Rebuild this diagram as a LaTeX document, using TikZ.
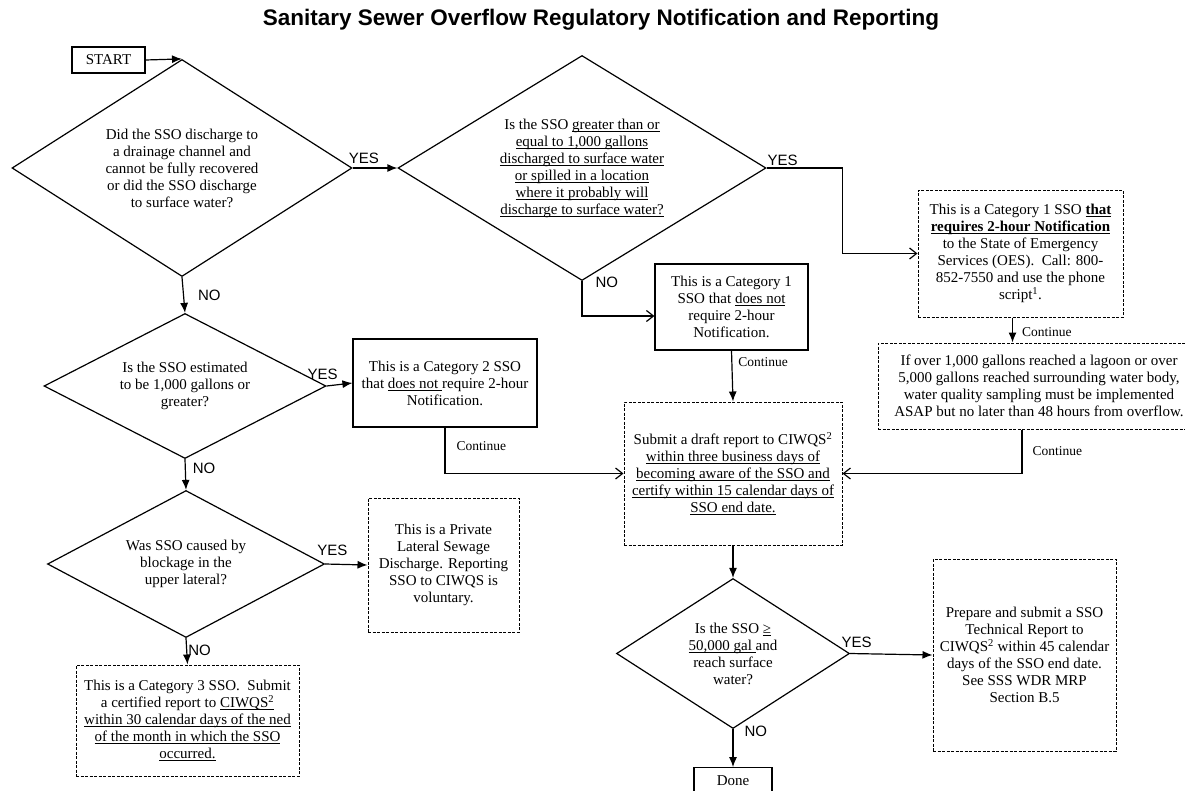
\documentclass[tikz,border=0pt]{standalone}
\usepackage{fontspec}
\setmainfont{Liberation Serif}
\newfontfamily\labelfont{Liberation Sans}
\usepackage{tikz}
\usetikzlibrary{shapes,arrows.meta}
\usetikzlibrary{positioning}
\newsavebox{\undlbox}
\newcommand{\undl}[1]{\sbox{\undlbox}{#1}\rlap{\rule[-2.4pt]{\wd\undlbox}{0.8pt}}\usebox{\undlbox}}
\tikzstyle{arrow} = [line width=1.2pt,-{Latex[length=10pt,width=8pt]}]
\tikzstyle{openarrow} = [line width=1.2pt,-{Straight Barb[length=7pt,width=11pt]}]
\tikzstyle{question} = [
    diamond, draw=black, line width=1.2pt, inner sep=0pt, align=center,
    font=\fontsize{15}{17}\selectfont]
\tikzstyle{process} = [
    rectangle, draw=black, line width=1.2pt, inner sep=2pt, align=center,
    font=\fontsize{15}{17}\selectfont]
\tikzstyle{dprocess} = [process, line width=1pt, dash pattern=on 3pt off 1.5pt]
\tikzstyle{answer} = [font=\labelfont\fontsize{15}{17}\selectfont, inner sep=1pt]
\tikzstyle{note} = [font=\fontsize{13.5}{16}\selectfont, inner sep=1pt]

\begin{document}
\begin{tikzpicture}[x=1pt, y=-1pt]
\useasboundingbox (0,0) rectangle (1185,790);

\node (title) at (601,20) {\labelfont\bfseries\fontsize{22.5}{26}\selectfont
    Sanitary Sewer Overflow Regulatory Notification and Reporting};

\node (start) [process, minimum width=73pt, minimum height=26pt] at (108.5,60) {START};

\node (q1) [question, shape aspect=1.56, minimum width=340pt, minimum height=217pt] at (182,168) {
    Did the SSO discharge to \\
    a drainage channel and \\
    cannot be fully recovered \\
    or did the SSO discharge \\
    to surface water?
};

\node (q2) [question, shape aspect=1.64, minimum width=368pt, minimum height=225pt] at (582,168) {
    Is the SSO \undl{greater than or} \\
    \undl{equal to 1,000 gallons} \\
    \undl{discharged to surface water} \\
    \undl{or spilled in a location} \\
    \undl{where it probably will} \\
    \undl{discharge to surface water?}
};

\node (cat1two) [dprocess, minimum width=205pt, minimum height=127pt] at (1020.5,253.5) {
    This is a Category 1 SSO \textbf{\undl{that}} \\
    \textbf{\undl{requires 2-hour Notification}} \\
    to the State of Emergency \\
    Services (OES).\ \ Call: 800- \\
    852-7550 and use the phone \\
    script\textsuperscript{1}.
};

\node (sample) [dprocess, minimum width=322pt, minimum height=86pt] at (1039,386) {
    If over 1,000 gallons reached a lagoon or over \\
    5,000 gallons reached surrounding water body, \\
    water quality sampling must be implemented \\
    ASAP but no later than 48 hours from overflow.
};

\node (cat1no) [process, minimum width=153pt, minimum height=86pt] at (731.5,307) {
    This is a Category 1 \\
    SSO that \undl{does not} \\
    require 2-hour \\
    Notification.
};

\node (q3) [question, shape aspect=1.94, minimum width=282pt, minimum height=145pt] at (185,386) {
    Is the SSO estimated \\
    to be 1,000 gallons or \\
    greater?
};

\node (cat2) [process, minimum width=184pt, minimum height=88pt] at (445,383) {
    This is a Category 2 SSO \\
    that \undl{does not }require 2-hour \\
    Notification.
};

\node (draft) [dprocess, minimum width=218pt, minimum height=143pt] at (733,473.5) {
    Submit a draft report to CIWQS\textsuperscript{2} \\
    \undl{within three business days of} \\
    \undl{becoming aware of the SSO and} \\
    \undl{certify within 15 calendar days of} \\
    \undl{SSO end date.}
};

\node (q4) [question, shape aspect=1.88, minimum width=277pt, minimum height=147pt] at (186,564) {
    Was SSO caused by \\
    blockage in the \\
    upper lateral?
};

\node (private) [dprocess, minimum width=151pt, minimum height=134pt] at (443.5,565) {
    This is a Private \\
    Lateral Sewage \\
    Discharge. Reporting \\
    SSO to CIWQS is \\
    voluntary.
};

\node (cat3) [dprocess, minimum width=223pt, minimum height=111pt] at (187.5,720.5) {
    This is a Category 3 SSO.\ \ Submit \\
    a certified report to \undl{CIWQS\textsuperscript{2}} \\
    \undl{within 30 calendar days of the ned} \\
    \undl{of the month in which the SSO} \\
    \undl{occurred.}
};

\node (q5) [question, shape aspect=1.55, minimum width=233pt, minimum height=150pt] at (733,653.5) {
    Is the SSO \undl{≥} \\
    \undl{50,000 gal }and \\
    reach surface \\
    water?
};

\node (report) [dprocess, minimum width=183pt, minimum height=192pt] at (1024.5,655) {
    Prepare and submit a SSO \\
    Technical Report to \\
    CIWQS\textsuperscript{2} within 45 calendar \\
    days of the SSO end date. \\
    See SSS WDR MRP \\
    Section B.5
};

\node (done) [process, minimum width=78pt, minimum height=26pt, below=38pt of q5] {Done};

\draw[arrow] (start.east) -- (q1.north);
\draw[arrow] (q1.east) -- node[answer, above=3pt, pos=0.25] {YES} (q2.west);
\draw[openarrow] (q2.east) -- node[answer, above=1pt, pos=0.21] {YES} ++(76,0) |- (cat1two.west);
\draw[openarrow] (q2.south) |- node[answer, right=12pt, pos=0.02] {NO} ([yshift=-9pt]cat1no.west);
\draw[arrow] (cat1no.south) -- node[note, right=5pt, pos=0.23] {Continue} (draft.north);
\draw[arrow] ([xshift=-8pt]cat1two.south) -- node[note, right=8pt, pos=0.6] {Continue}
    ([xshift=-8pt]cat1two.south |- sample.north);
\draw[openarrow] ([xshift=-17pt]sample.south) |- node[note, right=9pt, pos=0.25] {Continue} (draft.east);

\draw[arrow] (q1.south) -- node[answer, right=13pt, midway] {NO} (q3.north);
\draw[arrow] (q3.east) -- node[answer, above=5pt, pos=0, xshift=-4pt] {YES} (cat2.west);
\draw[openarrow] (cat2.south) |- node[note, right=10pt, pos=0.2] {Continue} (draft.west);
\draw[arrow] (q3.south) -- node[answer, right=6pt, pos=0.3] {NO} (q4.north);
\draw[arrow] (q4.east) -- node[answer, above=7pt, pos=0.17] {YES} (private.west);
\draw[arrow] (q4.south) -- node[answer, right=0pt, pos=0.45] {NO} (cat3.north);

\draw[arrow] (draft.south) -- (q5.north);
\draw[arrow] (q5.east) -- node[answer, above=4pt, pos=0.08] {YES} (report.west);
\draw[arrow] (q5.south) -- node[answer, right=10pt, pos=0.05] {NO} (done.north);
\end{tikzpicture}
\end{document}
